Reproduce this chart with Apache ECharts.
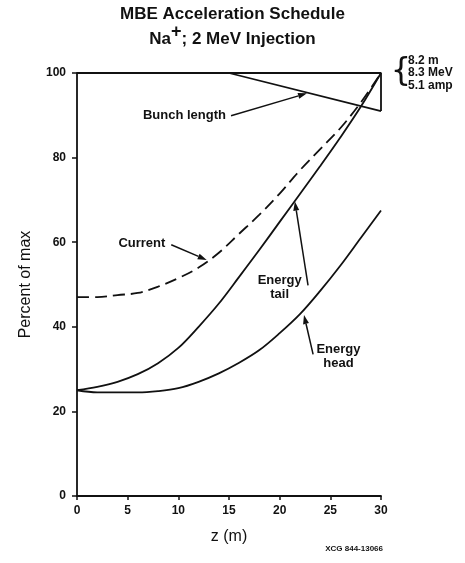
<!DOCTYPE html>
<html>
<head>
<meta charset="utf-8">
<script src="https://cdn.jsdelivr.net/npm/echarts@6/dist/echarts.min.js"></script>
<style>
  html, body { margin: 0; padding: 0; background: #fff; }
  #chart { width: 465px; height: 563px; }
</style>
</head>
<body>
<div id="chart"></div>
<script>
// values, z in metres
const zValues = [0, 2, 4, 6, 8, 10, 12, 14, 16, 18, 20, 22, 24, 26, 28, 30]
const currentPct = [47, 47, 47.5, 48, 49.5, 51.5, 54, 57.5, 62, 66.5, 71.5, 77, 82, 87, 93, 100]
const energyTailPct = [25, 25.8, 27, 28.8, 31.4, 35, 40, 45.5, 51.8, 58.2, 64.8, 71.4, 78, 84.8, 92, 100]
const energyHeadPct = [25, 24.5, 24.5, 24.5, 24.8, 25.5, 27, 29, 31.5, 34.5, 38.5, 43, 48.5, 54.5, 61, 67.5]
const bunchZ = [0, 15, 30]
const bunchPct = [100, 100, 91]
const frameZ = [15, 30, 30]
const framePct = [100, 100, 91]
const xTicks = [0, 5, 10, 15, 20, 25, 30]
const yTicks = [0, 20, 40, 60, 80, 100]
const endValues = ['8.2 m', '8.3 MeV', '5.1 amp']

const font = '"Liberation Sans", Arial, sans-serif'
const ink = '#111'

const pairs = (xs, ys) => xs.map((x, i) => [x, ys[i]])

const chart = echarts.init(document.getElementById('chart'))

const lineSeries = (name, data, dashed) => ({
  name,
  type: 'line',
  data,
  smooth: 0.35,
  symbol: 'none',
  lineStyle: { color: ink, width: 1.8, type: dashed ? [12, 6] : 'solid' },
  z: 3,
})

chart.setOption({
  animation: false,
  title: {
    left: 'center',
    top: -7,
    text: '{a|MBE Acceleration Schedule}\n{a|Na}{s|+}{a|; 2 MeV Injection}',
    textStyle: {
      rich: {
        a: { fontFamily: font, fontSize: 17, color: ink, lineHeight: 25, verticalAlign: 'bottom' },
        s: { fontFamily: font, fontSize: 18, color: ink, lineHeight: 25, verticalAlign: 'top', padding: [0, 0, 8, 0] },
      },
    },
  },
  grid: { left: 77, right: 84, top: 73, bottom: 67 },
  xAxis: {
    type: 'value',
    min: 0,
    max: 30,
    interval: 5,
    name: 'z (m)',
    nameLocation: 'middle',
    nameGap: 33,
    nameTextStyle: { fontFamily: font, fontSize: 16, color: ink },
    axisLine: { lineStyle: { color: ink, width: 1.8 } },
    axisTick: { show: true, length: 4, lineStyle: { color: ink, width: 1.5 } },
    axisLabel: { fontFamily: font, fontSize: 12, fontWeight: 'bold', color: ink, margin: 9,
      formatter: (v) => (xTicks.includes(v) ? String(v) : '') },
    splitLine: { show: false },
  },
  yAxis: {
    type: 'value',
    min: 0,
    max: 100,
    interval: 20,
    name: 'Percent of max',
    nameLocation: 'middle',
    nameGap: 43,
    nameTextStyle: { fontFamily: font, fontSize: 16, color: ink },
    axisLine: { show: true, lineStyle: { color: ink, width: 1.8 } },
    axisTick: { show: true, length: 5, lineStyle: { color: ink, width: 1.5 } },
    axisLabel: { fontFamily: font, fontSize: 12, fontWeight: 'bold', color: ink, margin: 11,
      formatter: (v) => (yTicks.includes(v) ? String(v) : '') },
    splitLine: { show: false },
  },
  series: [
    lineSeries('Current', pairs(zValues, currentPct), true),
    lineSeries('Energy tail', pairs(zValues, energyTailPct), false),
    lineSeries('Energy head', pairs(zValues, energyHeadPct), false),
    {
      name: 'Bunch length',
      type: 'line',
      data: pairs(bunchZ, bunchPct),
      symbol: 'none',
      lineStyle: { color: ink, width: 1.8 },
      z: 3,
    },
    {
      name: 'frame',
      type: 'line',
      data: pairs(frameZ, framePct),
      symbol: 'none',
      lineStyle: { color: ink, width: 1.8 },
      z: 2,
    },
  ],
})

// labels with arrows, anchored in data coordinates
const callouts = [
  { text: 'Bunch length', at: [10.6, 89.9], from: [15.2, 89.9], to: [22.7, 95.2] },
  { text: 'Current', at: [6.4, 59.8], from: [9.3, 59.4], to: [12.8, 55.8] },
  { text: 'Energy\ntail', at: [20.0, 49.4], from: [22.8, 49.8], to: [21.5, 69.6] },
  { text: 'Energy\nhead', at: [25.8, 33.1], from: [23.3, 33.5], to: [22.4, 42.8] },
]

const px = (p) => chart.convertToPixel({ gridIndex: 0 }, p)

const arrow = (a, b) => {
  const ang = Math.atan2(b[1] - a[1], b[0] - a[0])
  const len = 9, half = 3
  const base = [b[0] - len * Math.cos(ang), b[1] - len * Math.sin(ang)]
  const nx = -Math.sin(ang) * half, ny = Math.cos(ang) * half
  return [
    { type: 'line', shape: { x1: a[0], y1: a[1], x2: base[0], y2: base[1] }, style: { stroke: ink, lineWidth: 1.5 } },
    { type: 'polygon', shape: { points: [b, [base[0] + nx, base[1] + ny], [base[0] - nx, base[1] - ny]] }, style: { fill: ink } },
  ]
}

const graphics = []
callouts.forEach((c) => {
  const p = px(c.at)
  graphics.push({
    type: 'text',
    x: p[0],
    y: p[1],
    style: { text: c.text, font: 'bold 13px ' + font, fill: ink, align: 'center', verticalAlign: 'middle', lineHeight: 14 },
  })
  graphics.push(...arrow(px(c.from), px(c.to)))
})

// end-of-line values beside a brace
const corner = px([30, 100])
graphics.push({
  type: 'text',
  x: corner[0] + 20,
  y: corner[1] - 1,
  style: { text: '{', font: '32px "DejaVu Sans", ' + font, fill: ink, align: 'center', verticalAlign: 'middle' },
})
endValues.forEach((t, i) => {
  graphics.push({
    type: 'text',
    x: corner[0] + 27,
    y: corner[1] + (i - 1) * 12.5,
    style: { text: t, font: 'bold 12px ' + font, fill: ink, verticalAlign: 'middle' },
  })
})

graphics.push({
  type: 'text',
  right: 82,
  top: 545,
  style: { text: 'XCG 844-13066', font: 'bold 8px ' + font, fill: ink },
})

chart.setOption({ graphic: graphics })
</script>
</body>
</html>
